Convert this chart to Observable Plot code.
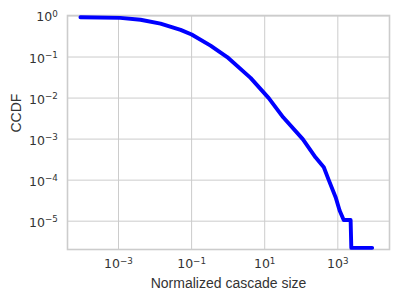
<!DOCTYPE html>
<html><head><meta charset="utf-8">
<script src="https://cdn.jsdelivr.net/npm/d3@7"></script>
<script src="https://cdn.jsdelivr.net/npm/@observablehq/plot@0.6"></script>
<style>
body{margin:0;background:#fff}
svg{font-family:"Liberation Sans",Arial,sans-serif}
</style>
</head><body><div id="chart"></div>
<script>
// Normalized cascade size (x) and CCDF (y)
const sizes = [9.1e-5, 1.12e-3, 4.0e-3, 1.41e-2, 5.0e-2, 0.1, 0.33, 0.94, 4.1, 12.9, 32, 110, 245, 414, 566, 871, 1120, 1450, 2240, 2340, 8700];
const ccdf  = [0.93, 0.90, 0.81, 0.65, 0.46, 0.355, 0.19, 0.10, 0.031, 0.010, 3.4e-3, 1.0e-3, 3.6e-4, 2.07e-4, 1.0e-4, 3.85e-5, 1.82e-5, 1.07e-5, 1.07e-5, 2.24e-6, 2.24e-6];
const xTicks = [1e-3, 1e-1, 1e1, 1e3];
const yTicks = [1, 1e-1, 1e-2, 1e-3, 1e-4, 1e-5];
const xLabel = "Normalized cascade size";
const yLabel = "CCDF";

const data = sizes.map((x, i) => ({x, y: ccdf[i]}));
const fmt = v => { const e = Math.round(Math.log10(v)); return "10^" + (e < 0 ? "\u2212" + (-e) : String(e)); };
const gridColor = "#cccccc";
const textColor = "#333333";
const tickFont = '"DejaVu Sans", sans-serif';

const chart = Plot.plot({
  width: 399, height: 302,
  marginLeft: 67, marginRight: 10, marginTop: 15, marginBottom: 53,
  style: {fontFamily: '"Liberation Sans", Arial, sans-serif', color: textColor, background: "#fff"},
  x: {type: "log", domain: [Math.pow(10, -4.395), Math.pow(10, 4.414)], axis: null},
  y: {type: "log", domain: [Math.pow(10, -5.69), Math.pow(10, 0.012)], axis: null},
  marks: [
    Plot.gridX(xTicks, {stroke: gridColor, strokeOpacity: 1, strokeWidth: 1}),
    Plot.gridY(yTicks, {stroke: gridColor, strokeOpacity: 1, strokeWidth: 1}),
    Plot.frame({stroke: gridColor, strokeWidth: 1.6}),
    Plot.line(data, {x: "x", y: "y", stroke: "#0000ff", strokeWidth: 3.9, strokeLinejoin: "round"}),
    Plot.text(xTicks, {x: d => d, frameAnchor: "bottom", dy: 18.4, lineAnchor: "bottom", textAnchor: "middle", text: fmt, fontSize: 12.5, fontFamily: tickFont, fill: textColor, ariaLabel: "xticklabels"}),
    Plot.text(yTicks, {y: d => d, frameAnchor: "left", dx: -9.7, textAnchor: "end", lineAnchor: "bottom", dy: 5.5, text: fmt, fontSize: 12.5, fontFamily: tickFont, fill: textColor, ariaLabel: "yticklabels"}),
    Plot.text([xLabel], {frameAnchor: "bottom", dy: 34.5, lineAnchor: "middle", fontSize: 14, fill: textColor, text: d => d}),
    Plot.text([yLabel], {frameAnchor: "left", dx: -50.5, rotate: -90, lineAnchor: "middle", fontSize: 14, fill: textColor, text: d => d})
  ]
});

// turn "10^e" tick labels into base + superscript tspans
const ns = "http://www.w3.org/2000/svg";
Array.from(chart.querySelectorAll("text")).forEach(t => {
  const s = t.textContent;
  const i = s.indexOf("^");
  if (i < 0) return;
  const base = s.slice(0, i), exp = s.slice(i + 1);
  while (t.firstChild) t.removeChild(t.firstChild);
  const b = document.createElementNS(ns, "tspan"); b.textContent = base;
  const e = document.createElementNS(ns, "tspan"); e.textContent = exp;
  e.setAttribute("font-size", "8.75"); e.setAttribute("dy", "-4.4");
  t.appendChild(b); t.appendChild(e);
});

document.getElementById("chart").appendChild(chart);
</script>
</body></html>
